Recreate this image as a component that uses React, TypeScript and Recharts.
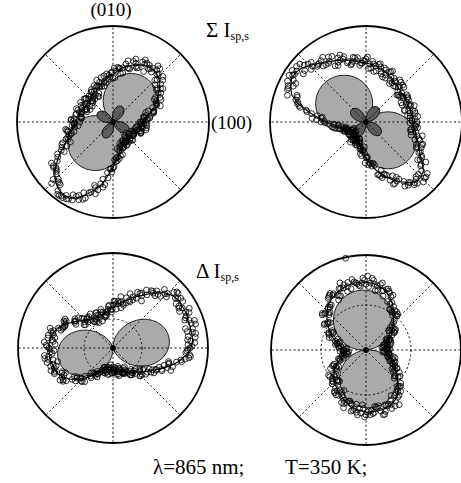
import React from 'react';
import { RadarChart, Radar, PolarGrid, PolarAngleAxis, PolarRadiusAxis } from 'recharts';

// polar angle categories (degrees, counter-clockwise from the (100) axis)
const ANGLES = [0,5,10,15,20,25,30,35,40,45,50,55,60,65,70,75,80,85,90,95,100,105,110,115,120,125,130,135,140,145,150,155,160,165,170,175,180,185,190,195,200,205,210,215,220,225,230,235,240,245,250,255,260,265,270,275,280,285,290,295,300,305,310,315,320,325,330,335,340,345,350,355];
const GRID_ANGLES = [0,45,90,135,180,225,270,315];
// angular offsets (deg) of the four measured point sets
const SET_OFFSETS = [0, 2.5, 1.25, 3.75];

// ---- top-left panel (Σ I, first) ----
const TL_LOBE = [38.9,42.1,45.0,47.6,49.8,51.7,53.1,54.2,54.8,55,54.8,54.2,53.1,51.7,49.8,47.6,45.0,42.1,38.9,35.4,31.6,27.5,23.3,18.8,14.2,9.6,4.8,0,4.8,9.6,14.2,18.8,23.3,27.5,31.6,35.4,38.9,42.1,45.0,47.6,49.8,51.7,53.1,54.2,54.8,55,54.8,54.2,53.1,51.7,49.8,47.6,45.0,42.1,38.9,35.4,31.6,27.5,23.3,18.8,14.2,9.6,4.8,0,4.8,9.6,14.2,18.8,23.3,27.5,31.6,35.4];
const TL_CLOVER = [6.2,3.1,0,3.1,6.2,9,11.6,13.8,15.6,16.9,17.7,18,17.7,16.9,15.6,13.8,11.6,9,6.2,3.1,0,3.1,6.2,9,11.6,13.8,15.6,16.9,17.7,18,17.7,16.9,15.6,13.8,11.6,9,6.2,3.1,0,3.1,6.2,9,11.6,13.8,15.6,16.9,17.7,18,17.7,16.9,15.6,13.8,11.6,9,6.2,3.1,0,3.1,6.2,9,11.6,13.8,15.6,16.9,17.7,18,17.7,16.9,15.6,13.8,11.6,9];
const TL_FIT = [32,35,40,44,48,52,57,61,64,66,66,65,63,61,58,55,51,48,46,43,41,39,37,35,34,33,32,32,32,32,32,33,34,35,36,38,40,43,46,48,53,61,68,76,82,86,88,88,84,77,70,63,53,45,37,32,29,26,25,24,23,22,22,22,22,23,25,27,28,29,30,31];
const TL_SCAT_A = [35,31,42,42,53,49,58,65,59,68,65,68,60,67,56,55,55,44,47,40,46,38,39,30,37,34,30,36,28,34,29,39,33,33,39,33,41,47,43,50,47,64,68,74,87,82,90,89,81,81,68,58,56,46,36,37,26,28,21,27,23,20,26,17,24,24,22,30,27,34,28,27];
const TL_SCAT_B = [31.5,41.5,37,47,53,53.5,55,67.5,65,63,67.5,70,60,55.5,59.5,54,44.5,49,48.5,41,37,38,41,32.5,29.5,35.5,34,26,33,36,30.5,32.5,37.5,31.5,42,39,38.5,46.5,46,54.5,52,65.5,75,77,81,91,87,88,76.5,73.5,69.5,63,47,38,35.5,34.5,22.5,27.5,24.5,22.5,25.5,18,27,20,23.5,21,30,29.5,23.5,29.5,33.5,30.5];
const TL_SCAT_C = [37,34,34,47,48,56,54,56,66,72,64,66,59,64,63,49,51,50,43,47,40,45,32,36,37,31,28,37,32,26,34,37,33,32,42,39,35,46,44,48,57,57,74,75,79,88,91,83,85,75,74,66,47,45,39,29,34,25.5,23,27,23.5,21,23.5,19.5,24,23,23.5,28,34,25,31,30];
const TL_SCAT_D = [31,42,50,47,47,60,61,61,71,67,59,67,63,56,50,54,54,45,43,37,42,39,29,39,32,29,36,32,38,30,28,35,38,32,40,39,48,40,48,56,59,74,73,83,81,91,90,83,83,66,63,51,50,40,27,30,24.5,27,21,24,22,24.5,21.5,20,24.5,24,30,23,30,34,28,34];

// ---- top-right panel (Σ I, second) ----
const TR_LOBE = [40.3,36.7,32.7,28.5,24.1,19.5,14.8,9.9,5.0,0,5.0,9.9,14.8,19.5,24.1,28.5,32.7,36.7,40.3,43.7,46.7,49.4,51.6,53.6,55.1,56.1,56.8,57,56.8,56.1,55.1,53.6,51.6,49.4,46.7,43.7,40.3,36.7,32.7,28.5,24.1,19.5,14.8,9.9,5.0,0,5.0,9.9,14.8,19.5,24.1,28.5,32.7,36.7,40.3,43.7,46.7,49.4,51.6,53.6,55.1,56.1,56.8,57,56.8,56.1,55.1,53.6,51.6,49.4,46.7,43.7];
const TR_CLOVER = [0,3.3,6.5,9.5,12.2,14.6,16.5,17.9,18.7,19,18.7,17.9,16.5,14.6,12.2,9.5,6.5,3.3,0,3.3,6.5,9.5,12.2,14.6,16.5,17.9,18.7,19,18.7,17.9,16.5,14.6,12.2,9.5,6.5,3.3,0,3.3,6.5,9.5,12.2,14.6,16.5,17.9,18.7,19,18.7,17.9,16.5,14.6,12.2,9.5,6.5,3.3,0,3.3,6.5,9.5,12.2,14.6,16.5,17.9,18.7,19,18.7,17.9,16.5,14.6,12.2,9.5,6.5,3.3];
const TR_FIT = [47,46,46,45,45,45,46,46,47,48,49,51,52,54,55,57,58,59,60,62,64,66,68,70,73,76,80,84,86,86,83,79,70,58,48,40,33,29,24,21,19,18,18,18,19,19,20,21,22,22,23,27,31,36,40,47,53,58,64,69,74,78,78,75,68,62,58,55,52,50,48,47];
const TR_SCAT_A = [44,50,44,47,40,48,45,42,52,46,50,48,55,48,57,57,54,63,59,65,59,67,66,75,70,75,82,80,90,84,86,73,71,60,45,45,32,25,27,19,23,15,18,20,14,23,18,20,25,18,25,32,28,35,41,42,56,56,68,66,74,80,74,80,66,61,61,52,53,45,50,51];
const TR_SCAT_B = [44.5,50,40.5,46,48,44.5,42,51.5,47.5,45.5,52,57.5,51,50.5,59,58.5,53.5,61.5,65,62,62,67,74,69.5,70.5,81,84,79,87,88.5,85,73.5,67.5,49,49.5,37,27.5,28,21.5,24,13.5,19,21,16.5,16,25.5,19.5,23.5,18,22.5,28,34,31.5,35,44.5,54,50.5,63,66.5,70.5,79,74,81.5,69.5,66,57,60.5,55.5,46,49,50.5,46];
const TR_SCAT_C = [52,45,40,48,45,49,43,41,49,54,47,52,48,57,60,51,58,61,57,66,63,72,63,71,76,74,76,89,86,80,85,83,69,55,54,41,28,32,23,21,21,16,21,17.5,17.5,20,22.5,18.5,22.5,21,25,28.5,25,36,42,44,58,57,60,75,75,76,81,70,72,62,55,57,58,46,49,46];
const TR_SCAT_D = [42,48,51,44,40,49,46,44,53,50,45,56,56,53,52,61,65,59,62,60,69,70,64,78,75,77,88,86,90,81,74,71,61,44,42,32,34,21,21,20.5,17,21,16.5,19.5,16.5,22,22,21.5,25,21,27,29,41,43,42,54,55,68,63,76,78,83,74,64,65,56,61,47,51,52,44,49];

// ---- bottom-left panel (Δ I, first) ----
const BL_LOBE = [56.6,57,56.6,55.6,53.7,51.3,48.2,44.6,40.6,36.2,31.6,26.9,22.2,17.5,13.2,9.2,5.7,2.9,0.9,0,0.9,2.9,5.6,9.1,13.0,17.2,21.8,26.4,31.1,35.6,39.9,43.8,47.4,50.4,52.8,54.6,55.6,56,55.6,54.6,52.8,50.4,47.4,43.8,39.9,35.6,31.1,26.4,21.8,17.2,13.0,9.1,5.6,2.9,0.9,0,0.9,2.9,5.7,9.2,13.2,17.5,22.2,26.9,31.6,36.2,40.6,44.6,48.2,51.3,53.7,55.6];
const BL_FIT = [80,80,80,80,81,81,81,80,77,73,67,61,57,53,49,46,44,41,39,37,36,35,34,35,36,37,39,42,46,50,55,59,61,63,64,64,64,64,63,62,61,58,54,49,43,38,33,28,25,23,22,22,22,22,23,23,24,25,26,28,30,32,34,37,41,45,50,56,63,69,74,78];
const BL_SCAT_A = [78,84,75,81,84,80,77,85,77,70,69,67,55,49,52,47,39,43,43,36,33,35,39,33,32,40,41,36,47,54,53,58,64,59,69,64,61,66,62,66,56,59,57,47,40,44,32,30,21,23,25,27,20,19,24,27,19,27,26,27,33,28,39,35,42,42,54,58,58,69,77,77];
const BL_SCAT_B = [83,76,82,78.5,86,78,81.5,82.5,70,72,63,62,52,57,45.5,45,46.5,36,39,33.5,40.5,33.5,36.5,30.5,39.5,39,38.5,48,44,54.5,54,66,61,61.5,67,59,65,67.5,59.5,63.5,53.5,59,51.5,44,45.5,31.5,32.5,27.5,21,26.5,20,17,25,23.5,22,28.5,21.5,27.5,23,32,31,31,39.5,34,45,48.5,50,62.5,65,76.5,74,75];
const BL_SCAT_C = [75,81,86,77,81,77,84,85,75,67,69,60,61,50,44,52,44,39,42,33,37,29,39,34,33,39,43,37,46,56,53,55,62,66,58,63,69,61,65,62,57,62,48,50,46,36,28,33,24.5,24,20,20.5,25,22,22,24.5,21.5,25.5,28,22,29,34,31,42,37,45,53,54,57,73,73,79];
const BL_SCAT_D = [76,82,86,80,76,84,80,74,78,68,55,61,55,47,41,47,47,38,37,32,38,36,29,41,36,36,46,46,56,53,54,62,66,60,66,63,69,57,62,64,56,60,46,44,33,37,30,24.5,26,20,22,21,24.5,24.5,20.5,24.5,23.5,28,25,32,32,39,36,37,48,48,62,58,70,78,75,82];

// ---- bottom-right panel (Δ I, second) ----
const BR_LOBE = [0,5.2,10.4,15.5,20.5,25.4,30,34.4,38.6,42.4,46.0,49.1,52.0,54.4,56.4,58.0,59.1,59.8,60,59.8,59.1,58.0,56.4,54.4,52.0,49.1,46.0,42.4,38.6,34.4,30,25.4,20.5,15.5,10.4,5.2,0,5.1,10.1,15.0,19.8,24.5,29,33.3,37.3,41.0,44.4,47.5,50.2,52.6,54.5,56.0,57.1,57.8,58,57.8,57.1,56.0,54.5,52.6,50.2,47.5,44.4,41.0,37.3,33.3,29,24.5,19.8,15.0,10.1,5.1];
const BR_FIT = [20,20,21,23,26,29,32,35,39,43,48,53,57,61,64,66,67,68,68,68,67,66,65,63,61,59,55,51,47,43,39,35,31,27,24,22,20,21,24,28,32,36,39,42,45,47,49,51,54,56,59,60,61,62,62,62,62,61,60,58,55,50,45,40,36,33,30,27,25,23,21,20];
const BR_SCAT_A = [22,16,26,22,23,30,36,30,39,46,46,47,59,65,61,65,72,66,64,69,70,66,60,65,65,56,53,57,46,39,41,36,28,31,19,22,23,19,25,24,37,35,36,44,48,41,50,49,58,56,56,55,63,65,61,58,67,59,60,59,52,54,40,42,35,36,26,25,30,23,18,21];
const BR_SCAT_B = [17,24.5,20,26.5,22.5,33.5,32.5,33,46,43.5,51.5,52,62,56.5,67,66.5,63.5,72,67,94,61.5,66.5,62,67,57,56,55,45,49,39,40,27,30,27.5,20,26,19.5,18.5,29,28,40,34.5,40.5,45.5,41,52,48,51.5,58,53.5,61.5,65.5,58.5,61,63,57,64.5,58.5,63,53.5,52.5,49.5,38.5,43,32.5,30.5,31.5,23,25,17,22.5,24];
const BR_SCAT_C = [22.5,19.5,18,24.5,26,33,29,30,41,49,46,54,53,64,69,60,67,70,65,72,66,72,60,64,64,57,51,56,47,37,41,39,30,25.5,27,22.5,17.5,22.5,23,28,36,32,45,41,42,49,54,46,55,54,63,63,55,62,64,59,67,60,56,64,56,48,48,35,40,33,27,28,28,21,21.5,19.5];
const BR_SCAT_D = [18,22,26,25.5,24,35,35,36,48,49,47,61,63,62,61,70,74,67,68,63,69,67,57,66,58,52,55,47,49,37,30,32,28.5,22,23,19.5,23.5,21,28,35,34,45,39,46,42,53,53,53,62,55,60,59,67,65,57,63,58,64,52,57,50,50,39,32,36,29,30,22.5,23.5,23,18.5,21];

const SERIF = '"Liberation Serif", "Times New Roman", Times, serif';
const SIZE = 220;

const dotStyle = { r: 2.9, fill: 'none', stroke: '#000', strokeWidth: 0.8 };

type LayerProps = { rows: any[]; radius: number; start: number; children: React.ReactNode };

function Layer({ rows, radius, start, children }: LayerProps) {
  return (
    <div style={{ position: 'absolute', left: 0, top: 0 }}>
      <RadarChart width={SIZE} height={SIZE} cx={SIZE / 2} cy={SIZE / 2} outerRadius={radius}
        margin={{ top: 0, right: 0, bottom: 0, left: 0 }} data={rows} startAngle={start} endAngle={start + 360}>
        <PolarAngleAxis dataKey="angle" tick={false} tickLine={false} axisLine={false} />
        <PolarRadiusAxis type="number" domain={[0, radius]} allowDataOverflow tick={false} axisLine={false} />
        {children}
      </RadarChart>
    </div>
  );
}

type PanelProps = {
  left: number; top: number; radius: number;
  lobe: number[]; clover?: number[]; fit: number[]; sets: number[][];
  innerRings?: number[];
};

function Panel({ left, top, radius, lobe, clover, fit, sets, innerRings }: PanelProps) {
  const rows = ANGLES.map((a, i) => ({ angle: a, lobe: lobe[i], clover: clover ? clover[i] : 0, fit: fit[i] }));
  return (
    <div style={{ position: 'absolute', left, top, width: SIZE, height: SIZE }}>
      <Layer rows={rows} radius={radius} start={0}>
        <Radar dataKey="lobe" fill="#aaaaaa" fillOpacity={1} stroke="#222" strokeWidth={1} isAnimationActive={false} />
      </Layer>
      {clover && (
        <Layer rows={rows} radius={radius} start={0}>
          <Radar dataKey="clover" fill="#5c5c5c" fillOpacity={1} stroke="#111" strokeWidth={1} isAnimationActive={false} />
        </Layer>
      )}
      <Layer rows={rows} radius={radius} start={0}>
        <PolarGrid gridType="circle" polarAngles={GRID_ANGLES} polarRadius={innerRings || []} stroke="#111" strokeWidth={1} strokeDasharray="2 2.4" />
        <PolarGrid gridType="circle" radialLines={false} polarAngles={[]} polarRadius={[1, 2, radius]} stroke="#000" strokeWidth={1.8} />
      </Layer>
      <Layer rows={rows} radius={radius} start={0}>
        <Radar dataKey="fit" fill="none" fillOpacity={0} stroke="#000" strokeWidth={1.1} isAnimationActive={false} />
      </Layer>
      {sets.map((vals, k) => (
        <Layer key={k} rows={ANGLES.map((a, i) => ({ angle: a, scat: vals[i] }))} radius={radius} start={SET_OFFSETS[k]}>
          <Radar dataKey="scat" fill="none" fillOpacity={0} stroke="none" dot={dotStyle} isAnimationActive={false} />
        </Layer>
      ))}
    </div>
  );
}

export default function App() {
  return (
    <div style={{ position: 'absolute', left: 0, top: 0, width: 461, height: 483, overflow: 'hidden', background: '#fff' }}>
      <Panel left={3} top={12} radius={96} lobe={TL_LOBE} clover={TL_CLOVER} fit={TL_FIT} sets={[TL_SCAT_A, TL_SCAT_B, TL_SCAT_C, TL_SCAT_D]} />
      <Panel left={256} top={12} radius={96} lobe={TR_LOBE} clover={TR_CLOVER} fit={TR_FIT} sets={[TR_SCAT_A, TR_SCAT_B, TR_SCAT_C, TR_SCAT_D]} />
      <Panel left={3} top={238} radius={95} lobe={BL_LOBE} fit={BL_FIT} sets={[BL_SCAT_A, BL_SCAT_B, BL_SCAT_C, BL_SCAT_D]} innerRings={[29]} />
      <Panel left={256} top={240} radius={95} lobe={BR_LOBE} fit={BR_FIT} sets={[BR_SCAT_A, BR_SCAT_B, BR_SCAT_C, BR_SCAT_D]} innerRings={[45]} />
      <svg width={461} height={483} style={{ position: 'absolute', left: 0, top: 0, pointerEvents: 'none' }}>
        <g fontFamily={SERIF} fill="#000">
          <text x={111} y={16} fontSize={19} textAnchor="middle">(010)</text>
          <text x={211} y={129} fontSize={19}>(100)</text>
          <text x={206} y={37} fontSize={21}>Σ I<tspan fontSize={12} dy={3}>sp,s</tspan></text>
          <text x={196} y={278} fontSize={21}>Δ I<tspan fontSize={12} dy={3}>sp,s</tspan></text>
          <text y={474} fontSize={21}><tspan x={153}>λ=865 nm;</tspan><tspan x={285}>T=350 K;</tspan></text>
        </g>
      </svg>
    </div>
  );
}
